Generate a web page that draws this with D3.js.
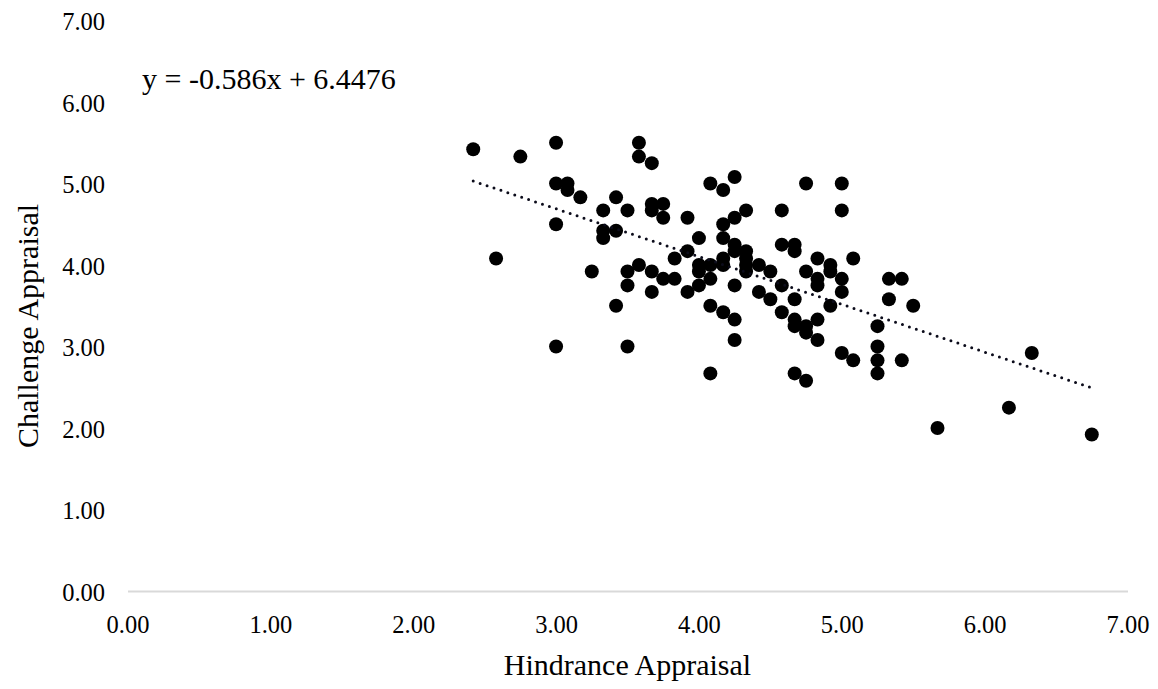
<!DOCTYPE html>
<html>
<head>
<meta charset="utf-8">
<script src="https://cdn.jsdelivr.net/npm/d3@7"></script>
<style>
  body { margin: 0; background: #fff; }
  svg { display: block; font-family: "Liberation Serif", "Times New Roman", serif; }
</style>
</head>
<body>
<svg id="chart"></svg>
<script>
// hindrance (x) / challenge (y) pairs
const hindrance = [
  2.42, 2.58, 2.75,
  3.00, 3.00, 3.00, 3.00,
  3.08, 3.08, 3.17, 3.25,
  3.33, 3.33, 3.33,
  3.42, 3.42, 3.42,
  3.50, 3.50, 3.50, 3.50,
  3.58, 3.58, 3.58,
  3.67, 3.67, 3.67, 3.67, 3.67,
  3.75, 3.75, 3.75,
  3.83, 3.83,
  3.92, 3.92, 3.92,
  4.00, 4.00, 4.00, 4.00,
  4.08, 4.08, 4.08, 4.08, 4.08,
  4.17, 4.17, 4.17, 4.17, 4.17, 4.17,
  4.25, 4.25, 4.25, 4.25, 4.25, 4.25, 4.25,
  4.33, 4.33, 4.33, 4.33, 4.33,
  4.42, 4.42,
  4.50, 4.50,
  4.58, 4.58, 4.58, 4.58,
  4.67, 4.67, 4.67, 4.67, 4.67, 4.67,
  4.75, 4.75, 4.75, 4.75, 4.75,
  4.83, 4.83, 4.83, 4.83, 4.83,
  4.92, 4.92, 4.92,
  5.00, 5.00, 5.00, 5.00, 5.00,
  5.08, 5.08,
  5.25, 5.25, 5.25, 5.25,
  5.33, 5.33,
  5.42, 5.42,
  5.50, 5.67, 6.17, 6.33, 6.75
];
const challenge = [
  5.42, 4.08, 5.33,
  5.50, 5.00, 4.50, 3.00,
  5.00, 4.92, 4.83, 3.92,
  4.67, 4.42, 4.33,
  4.83, 4.42, 3.50,
  4.67, 3.92, 3.75, 3.00,
  5.50, 5.33, 4.00,
  5.25, 4.75, 4.67, 3.92, 3.67,
  4.75, 4.58, 3.83,
  4.08, 3.83,
  4.58, 4.17, 3.67,
  4.33, 4.00, 3.92, 3.75,
  5.00, 4.00, 3.83, 3.50, 2.67,
  4.92, 4.50, 4.33, 4.08, 4.00, 3.42,
  5.08, 4.58, 4.25, 4.17, 3.75, 3.33, 3.08,
  4.67, 4.17, 4.08, 4.00, 3.92,
  4.00, 3.67,
  3.92, 3.58,
  4.67, 4.25, 3.75, 3.42,
  4.25, 4.17, 3.58, 3.33, 3.25, 2.67,
  5.00, 3.92, 3.25, 3.17, 2.58,
  4.08, 3.83, 3.75, 3.33, 3.08,
  4.00, 3.92, 3.50,
  5.00, 4.67, 3.83, 3.67, 2.92,
  4.08, 2.83,
  3.25, 3.00, 2.83, 2.67,
  3.83, 3.58,
  3.83, 2.83,
  3.50, 2.00, 2.25, 2.92, 1.92
];
const ticks = [0, 1, 2, 3, 4, 5, 6, 7];
const slope = -0.586;
const intercept = 6.4476;

const W = 1158, H = 689;
const svg = d3.select('#chart').attr('width', W).attr('height', H);

const x = d3.scaleLinear().domain([0, 7]).range([127.5, 1127.5]);
const y = d3.scaleLinear().domain([0, 7]).range([591, 20.5]);

// x axis: light grey baseline, labels only
const xAxis = d3.axisBottom(x).tickValues(ticks).tickFormat(d3.format('.2f')).tickSize(0).tickPadding(0);
const gx = svg.append('g').attr('transform', `translate(0,${y(0)})`).call(xAxis);
gx.select('.domain').attr('stroke', '#d9d9d9').attr('stroke-width', 2);
gx.selectAll('text')
  .attr('y', 42).attr('dy', null)
  .attr('font-size', 24.5).attr('fill', '#000')
  .attr('font-family', '"Liberation Serif", serif');

// y axis: no line, labels only
const yAxis = d3.axisLeft(y).tickValues(ticks).tickFormat(d3.format('.2f')).tickSize(0).tickPadding(0);
const gy = svg.append('g').attr('transform', 'translate(105,0)').call(yAxis);
gy.select('.domain').remove();
gy.selectAll('text')
  .attr('x', 0).attr('dy', 9)
  .attr('font-size', 24.5).attr('fill', '#000')
  .attr('font-family', '"Liberation Serif", serif');

// points
const pts = d3.zip(hindrance, challenge);
svg.append('g').selectAll('circle')
  .data(pts)
  .join('circle')
    .attr('cx', d => x(d[0]))
    .attr('cy', d => y(d[1]))
    .attr('r', 7)
    .attr('fill', '#000');

// linear trend line over the data range
const xs = d3.extent(hindrance);
svg.append('line')
  .attr('x1', x(xs[0])).attr('y1', y(slope * xs[0] + intercept))
  .attr('x2', x(xs[1])).attr('y2', y(slope * xs[1] + intercept))
  .attr('stroke', '#0b0b1a')
  .attr('stroke-width', 3)
  .attr('stroke-linecap', 'round')
  .attr('stroke-dasharray', '0 7.3');

// equation label
svg.append('text')
  .attr('x', 142).attr('y', 89)
  .attr('font-size', 30)
  .text(`y = ${slope}x + ${intercept}`);

// axis titles
svg.append('text')
  .attr('x', (x(0) + x(7)) / 2).attr('y', 675)
  .attr('text-anchor', 'middle')
  .attr('font-size', 30)
  .text('Hindrance Appraisal');

svg.append('text')
  .attr('transform', 'translate(38,326) rotate(-90)')
  .attr('text-anchor', 'middle')
  .attr('font-size', 30)
  .text('Challenge Appraisal');
</script>
</body>
</html>
